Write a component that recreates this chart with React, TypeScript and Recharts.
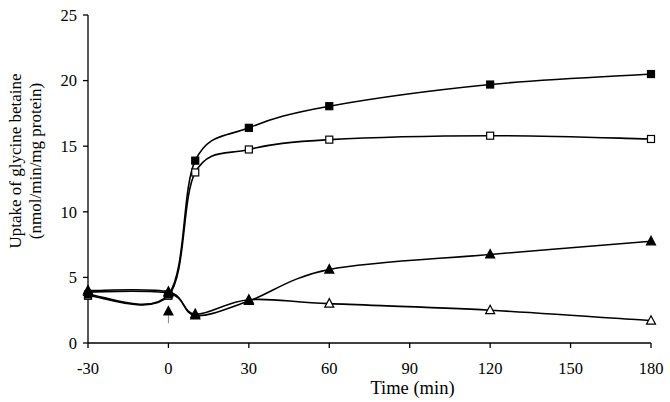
import React from 'react';
import { LineChart, Line, XAxis, YAxis, Scatter, ReferenceLine } from 'recharts';

const times = [-30, 0, 10, 30, 60, 120, 180];
const filledSquares = [3.7, 3.7, 13.9, 16.4, 18.05, 19.7, 20.5];
const openSquares = [3.6, 3.6, 13.0, 14.75, 15.5, 15.8, 15.55];
const filledTriangles = [4.0, 3.9, 2.1, 3.2, 5.6, 6.75, 7.75];
const openTriangles = [3.9, 3.8, 2.2, 3.3, 3.0, 2.5, 1.7];
const xTicks = [-30, 0, 30, 60, 90, 120, 150, 180];
const yTicks = [0, 5, 10, 15, 20, 25];
// arrow marking the addition at t = 0
const arrowPoint = [{ t: 0, v: 2.4 }];
const arrowStem = [1.5, 2.1];

const data = times.map((t, i) => ({
    t,
    fs: filledSquares[i],
    os: openSquares[i],
    ft: filledTriangles[i],
    ot: openTriangles[i],
}));

const FONT = '"Liberation Serif", "Times New Roman", serif';

// Excel-style smoothing (Catmull-Rom through the points)
const smoothCurve: any = (context: any) => {
    let pts: number[][] = [];
    return {
        areaStart() {},
        areaEnd() {},
        lineStart() { pts = []; },
        point(x: number, y: number) { pts.push([+x, +y]); },
        lineEnd() {
            if (!pts.length) return;
            context.moveTo(pts[0][0], pts[0][1]);
            for (let i = 0; i < pts.length - 1; i++) {
                const p0 = pts[i - 1] || pts[i];
                const p1 = pts[i];
                const p2 = pts[i + 1];
                const p3 = pts[i + 2] || p2;
                context.bezierCurveTo(
                    p1[0] + (p2[0] - p0[0]) / 6, p1[1] + (p2[1] - p0[1]) / 6,
                    p2[0] - (p3[0] - p1[0]) / 6, p2[1] - (p3[1] - p1[1]) / 6,
                    p2[0], p2[1]
                );
            }
        },
    };
};

const marker = (kind: 'square' | 'triangle', filled: boolean) => (p: any) => {
    const { cx, cy, index } = p;
    if (cx == null || cy == null) return <g key={index} />;
    const fill = filled ? '#000' : '#fff';
    if (kind === 'square') {
        return <rect key={index} x={cx - 3.5} y={cy - 3.5} width={7} height={7} fill={fill} stroke="#000" strokeWidth={1.2} />;
    }
    return (
        <path key={index} d={`M${cx},${cy - 5} L${cx + 4.5},${cy + 3.5} L${cx - 4.5},${cy + 3.5} Z`}
            fill={fill} stroke="#000" strokeWidth={1.2} />
    );
};

const YLabel = ({ viewBox }: any) => {
    const cy = viewBox.y + viewBox.height / 2 - 18;
    return (
        <g fontFamily={FONT} fontSize={17} fill="#000">
            <text x={21} y={cy} textAnchor="middle" transform={`rotate(-90, 21, ${cy})`}>Uptake of glycine betaine</text>
            <text x={41} y={cy} textAnchor="middle" transform={`rotate(-90, 41, ${cy})`}>(nmol/min/mg protein)</text>
        </g>
    );
};

const XLabel = ({ viewBox }: any) => (
    <text x={viewBox.x + viewBox.width / 2 + 43} y={394} textAnchor="middle" fontFamily={FONT} fontSize={18.5} fill="#000">
        Time (min)
    </text>
);

const tickStyle = { fontFamily: FONT, fontSize: 16.5, fill: '#000' };

const App = () => (
    <div style={{ position: 'absolute', left: 0, top: 0, background: '#fff' }}>
        <LineChart width={670} height={402} data={data} margin={{ top: 15, right: 19, bottom: 9, left: 28 }}>
            <XAxis dataKey="t" type="number" domain={[-30, 180]} ticks={xTicks} interval={0}
                height={50} stroke="#000" strokeWidth={1.3} tickSize={5} tickMargin={14}
                tick={tickStyle} tickLine={{ stroke: '#000' }} label={<XLabel />} />
            <YAxis type="number" domain={[0, 25]} ticks={yTicks} interval={0} width={60}
                stroke="#000" strokeWidth={1.3} tickSize={5} tickMargin={6}
                tick={tickStyle} tickLine={{ stroke: '#000' }} label={<YLabel />} />
            <ReferenceLine segment={[{ x: 0, y: arrowStem[0] }, { x: 0, y: arrowStem[1] }]} stroke="#888" strokeWidth={1} />
            <Line dataKey="ot" type={smoothCurve} stroke="#000" strokeWidth={1.6} dot={marker('triangle', false)} isAnimationActive={false} />
            <Line dataKey="ft" type={smoothCurve} stroke="#000" strokeWidth={1.6} dot={marker('triangle', true)} isAnimationActive={false} />
            <Line dataKey="os" type={smoothCurve} stroke="#000" strokeWidth={1.6} dot={marker('square', false)} isAnimationActive={false} />
            <Line dataKey="fs" type={smoothCurve} stroke="#000" strokeWidth={1.6} dot={marker('square', true)} isAnimationActive={false} />
            <Scatter data={arrowPoint} dataKey="v" shape={marker('triangle', true)} isAnimationActive={false} />
        </LineChart>
    </div>
);

export default App;
